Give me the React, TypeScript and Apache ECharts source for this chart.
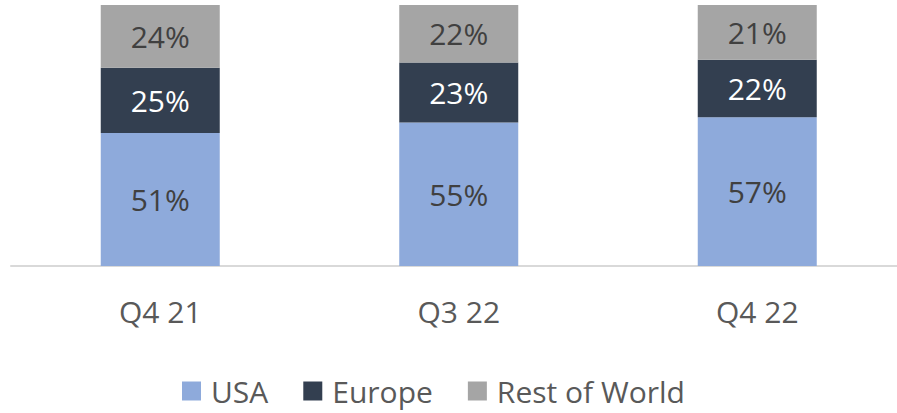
import React, { useEffect, useRef } from "react";
import * as echarts from "echarts";

const categories = ["Q4 21", "Q3 22", "Q4 22"];
const usa = [51, 55, 57];
const europe = [25, 23, 22];
const rest = [24, 22, 21];

const FONT = "'Open Sans', 'Noto Sans', sans-serif";

export default function App() {
  const ref = useRef<HTMLDivElement>(null);
  useEffect(() => {
    const chart = echarts.init(ref.current!, null, { renderer: "svg" });
    const label = (color: string) => ({
      show: true,
      position: "inside",
      formatter: "{c}%",
      color,
      fontSize: 30,
      fontFamily: FONT,
    });
    chart.setOption({
      animation: false,
      textStyle: { fontFamily: FONT },
      legend: {
        top: 371,
        left: 177,
        itemWidth: 19,
        itemHeight: 19,
        itemGap: 35,
        icon: "rect",
        textStyle: {
          fontSize: 30,
          color: "#595959",
          fontFamily: FONT,
          padding: [0, 0, 0, 5],
        },
        data: ["USA", "Europe", "Rest of World"],
      },
      grid: { left: 11, width: 895.5, top: 5, height: 261 },
      xAxis: {
        type: "category",
        data: categories,
        axisLine: { lineStyle: { color: "#D9D9D9", width: 2 } },
        axisTick: { show: false },
        axisLabel: { color: "#595959", fontSize: 30, margin: 30, fontFamily: FONT },
      },
      yAxis: {
        type: "value",
        min: 0,
        max: 100,
        show: false,
        splitLine: { show: false },
      },
      series: [
        {
          name: "USA",
          type: "bar",
          stack: "a",
          data: usa,
          barWidth: 119,
          itemStyle: { color: "#8EAADB" },
          label: label("#404040"),
        },
        {
          name: "Europe",
          type: "bar",
          stack: "a",
          data: europe,
          barWidth: 119,
          itemStyle: { color: "#333F50" },
          label: label("#FFFFFF"),
        },
        {
          name: "Rest of World",
          type: "bar",
          stack: "a",
          data: rest,
          barWidth: 119,
          itemStyle: { color: "#A5A5A5" },
          label: label("#404040"),
        },
      ],
    });
    return () => chart.dispose();
  }, []);
  return (
    <div
      style={{
        position: "absolute",
        left: 0,
        top: 0,
        width: 897,
        height: 413,
        overflow: "hidden",
      }}
    >
      <div ref={ref} style={{ width: 910, height: 413 }} />
    </div>
  );
}
